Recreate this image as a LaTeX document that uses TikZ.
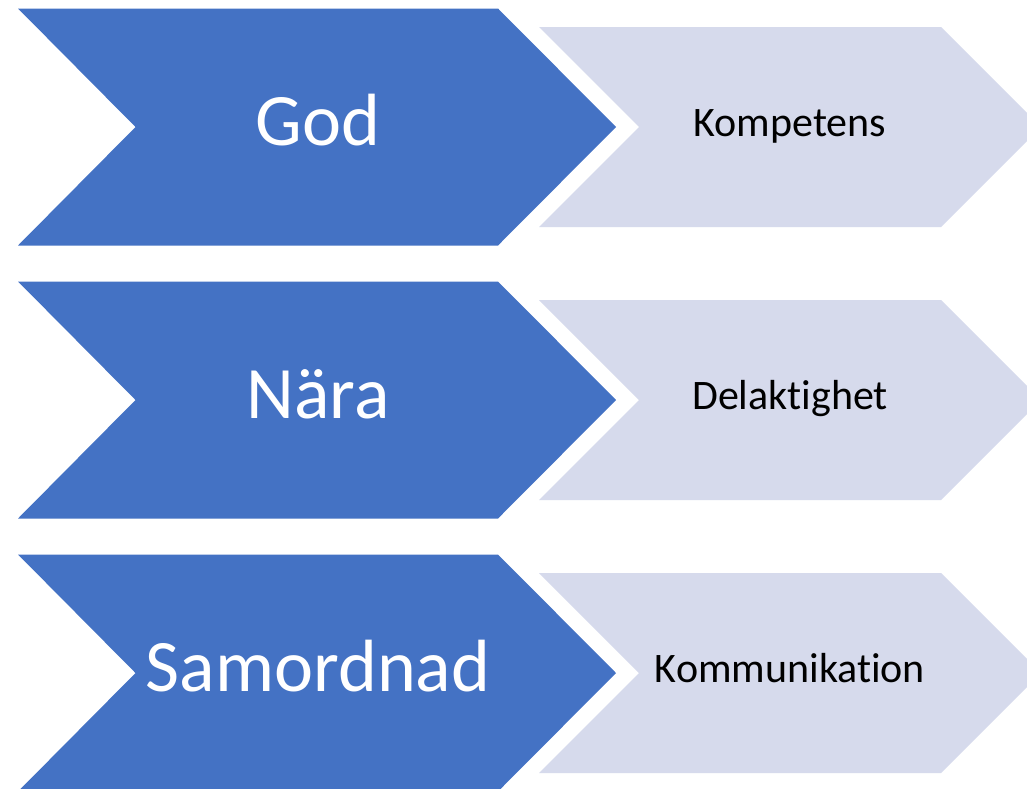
\documentclass[tikz,border=0pt]{standalone}
\usepackage{fontspec}
\setmainfont{Carlito}[Ligatures=NoCommon]
\definecolor{darkblue}{RGB}{68,114,196}
\definecolor{lightblue}{RGB}{214,218,236}
\tikzset{
  bigchev/.style={fill=darkblue, draw=none},
  smallchev/.style={fill=lightblue, draw=none},
  biglabel/.style={text=white, font=\fontsize{74}{82}\selectfont, anchor=base, inner sep=0pt},
  smalllabel/.style={text=black, font=\fontsize{42}{48}\selectfont, anchor=base, inner sep=0pt}
}
\begin{document}
\begin{tikzpicture}[x=1pt,y=-1pt]
\useasboundingbox (0,0) rectangle (1027,788);
\clip (0,0) rectangle (1027,788);
\fill[white] (0,0) rectangle (1027,788);
\foreach \c/\big/\small [count=\i] in {127/God/Kompetens, 400/Nära/Delaktighet, 673/Samordnad/Kommunikation}{
  \path[bigchev] (18,\c-118.5) -- (498,\c-118.5) -- (616,\c) -- (498,\c+118.5) -- (18,\c+118.5) -- (135.5,\c) -- cycle;
  \path[smallchev] (539,\c-100) -- (941,\c-100) -- (1041,\c) -- (941,\c+100) -- (539,\c+100) -- (639,\c) -- cycle;
  \node[biglabel] (big\i) at (318,\c+18) {\big};
  \node[smalllabel] (small\i) at (790,\c+9) {\small};
}
\end{tikzpicture}
\end{document}
